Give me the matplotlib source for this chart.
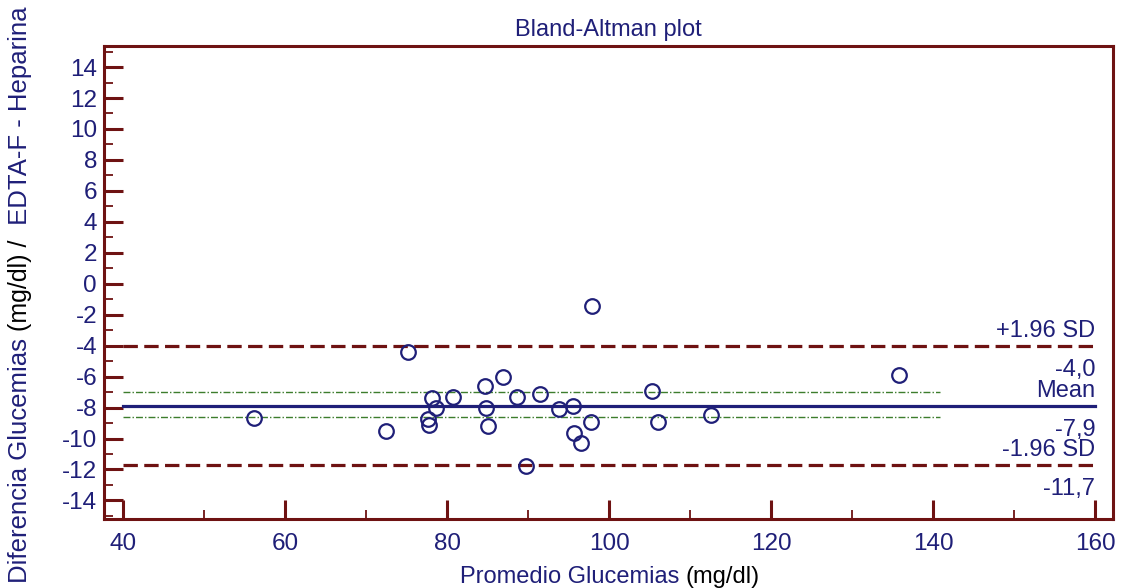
import matplotlib
matplotlib.use("Agg")
import matplotlib.pyplot as plt
from matplotlib.ticker import MultipleLocator

plt.rcParams['font.family'] = ['Liberation Sans', 'DejaVu Sans']

# Data
promedio = [56.2, 72.5, 75.2, 77.7, 77.8, 78.1, 78.6, 80.7, 84.7, 84.8, 85.1,
            86.9, 88.6, 89.8, 91.5, 93.8, 95.6, 95.7, 96.5, 97.8, 97.9,
            105.3, 106.0, 112.6, 135.8]
diferencia = [-8.7, -9.5, -4.4, -8.76, -9.1, -7.4, -8.05, -7.35, -6.6, -8.05, -9.2,
              -6.05, -7.3, -11.8, -7.15, -8.1, -7.9, -9.65, -10.3, -8.95, -1.45,
              -6.9, -8.95, -8.5, -5.9]
mean_diff = -7.9
upper_loa = -4.0
lower_loa = -11.7
mean_ci = [-7.02, -8.64]
ci_end_x = 140.9
line_x = [40, 160]
mean_labels = ["+1.96 SD", "-4,0", "Mean", "-7,9", "-1.96 SD", "-11,7"]

navy = "#1f1f78"
maroon = "#6e1212"
green = "#3d7d2d"

fig = plt.figure(figsize=(11.25, 5.88), dpi=100)
ax = fig.add_axes([104/1125, 1-519/588, (1113-104)/1125, (519-46)/588])

ax.set_xlim(37.65, 162.2)
ax.set_ylim(-15.2, 15.36)

# limit lines
ax.plot(line_x, [upper_loa]*2, color=maroon, lw=2.3, ls=(0, (4.5, 2.0)))
ax.plot(line_x, [lower_loa]*2, color=maroon, lw=2.3, ls=(0, (4.5, 2.0)))
ax.plot(line_x, [mean_diff]*2, color=navy, lw=2.3)
for c in mean_ci:
    ax.plot([line_x[0], ci_end_x], [c, c], color=green, lw=1.0, ls=(0, (5, 1.5, 1, 1.5)))

ax.plot(promedio, diferencia, ls='none', marker='o', ms=10.5, mfc='none',
        mec=navy, mew=1.6)

fs_lab = 17
up_off = 0.25
dn_off = 0.85
ax.text(160, upper_loa + up_off, mean_labels[0], ha='right', va='bottom', color=navy, fontsize=fs_lab)
ax.text(160, upper_loa - dn_off, mean_labels[1], ha='right', va='top', color=navy, fontsize=fs_lab)
ax.text(160, mean_diff + up_off, mean_labels[2], ha='right', va='bottom', color=navy, fontsize=fs_lab)
ax.text(160, mean_diff - dn_off, mean_labels[3], ha='right', va='top', color=navy, fontsize=fs_lab)
ax.text(160, lower_loa + up_off, mean_labels[4], ha='right', va='bottom', color=navy, fontsize=fs_lab)
ax.text(160, lower_loa - dn_off, mean_labels[5], ha='right', va='top', color=navy, fontsize=fs_lab)

# ticks
ax.set_xticks(range(40, 161, 20))
ax.xaxis.set_minor_locator(MultipleLocator(10))
ax.set_yticks(range(-14, 15, 2))
ax.yaxis.set_minor_locator(MultipleLocator(1))
ax.set_yticklabels([str(v) for v in range(-14, 15, 2)])
ax.tick_params(which='major', direction='in', length=14, width=2.2, color=maroon,
               labelsize=17.5, labelcolor=navy, pad=5)
ax.tick_params(which='minor', direction='in', length=6.5, width=1.3, color=maroon)
ax.tick_params(axis='x', which='major', pad=10)
for sp in ax.spines.values():
    sp.set_color(maroon)
    sp.set_linewidth(2.2)

ax.set_title("Bland-Altman plot", color=navy, fontsize=17, pad=7)

# x label (two colours)
t1 = fig.text(0, 0.0, "Promedio Glucemias ", color=navy, fontsize=17, ha='left', va='bottom')
t2 = fig.text(0, 0.0, "(mg/dl)", color='black', fontsize=17, ha='left', va='bottom')
fig.canvas.draw()
w1 = t1.get_window_extent().width
w2 = t2.get_window_extent().width
start = 610 - (w1 + w2)/2
t1.set_x(start/1125)
t2.set_x((start + w1)/1125)

# y label (three pieces)
parts = [("Diferencia Glucemias ", navy, 18.5), ("(mg/dl) / ", 'black', 18), (" EDTA-F - Heparina", navy, 18.5)]
texts = []
for s, c, f in parts:
    t = fig.text(20/1125, 0, s, color=c, fontsize=f, rotation=90, ha='center', va='bottom')
    texts.append(t)
fig.canvas.draw()
hs = [t.get_window_extent().height for t in texts]
tot = sum(hs)
ybot = 588 - (295 + tot/2)
for t, h in zip(texts, hs):
    t.set_y(ybot/588)
    ybot += h

fig.savefig("out.png", dpi=100)
